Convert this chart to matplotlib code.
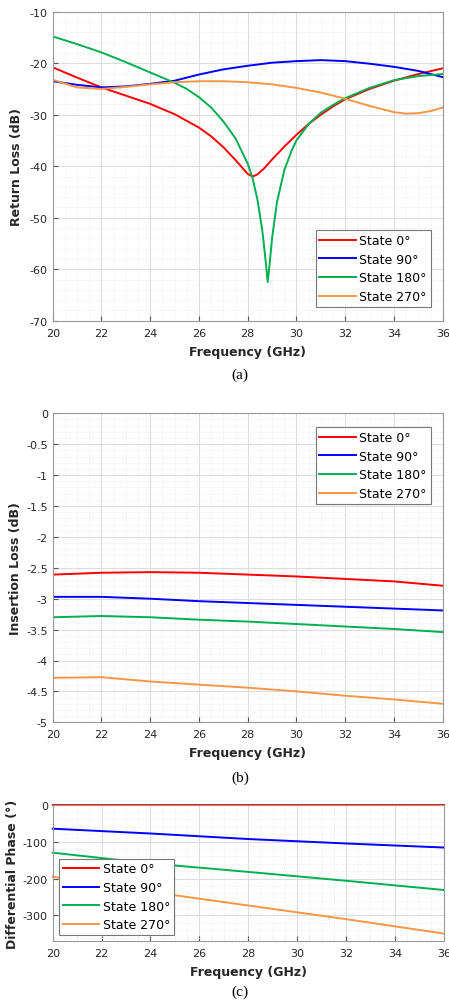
import matplotlib

matplotlib.use("Agg")
import matplotlib.pyplot as plt
from matplotlib.ticker import FuncFormatter, MultipleLocator

# State colours / labels
labels = ["State 0°", "State 90°", "State 180°", "State 270°"]
colors = ["#FF0000", "#0000FF", "#00B050", "#F79646"]

# (a) return loss, dB
rl_f_red = [20, 21, 22, 23, 24, 25, 26, 26.5, 27, 27.5, 28, 28.2, 28.4, 28.7, 29, 29.5,
            30, 30.5, 31, 31.5, 32, 33, 34, 35, 36]
rl_red = [-20.8, -22.8, -24.7, -26.3, -27.9, -29.9, -32.5, -34.2, -36.3, -38.8, -41.5, -42.0,
          -41.6, -40.3, -38.7, -36.2, -33.9, -31.8, -30.0, -28.4, -27.0, -25.0, -23.4, -22.1, -21.0]
rl_f_blue = [20, 21, 22, 23, 24, 25, 26, 27, 28, 29, 30, 31, 32, 33, 34, 35, 36]
rl_blue = [-23.5, -24.2, -24.7, -24.5, -24.0, -23.4, -22.2, -21.2, -20.5, -19.9, -19.6, -19.4,
           -19.6, -20.1, -20.7, -21.5, -22.7]
rl_f_green = [20, 21, 22, 23, 24, 25, 25.5, 26, 26.5, 27, 27.5, 28, 28.2, 28.4, 28.6, 28.75,
              28.82, 28.9, 29.0, 29.2, 29.5, 29.8, 30, 30.5, 31, 31.5, 32, 33, 34, 35, 36]
rl_green = [-14.8, -16.3, -17.9, -19.8, -21.8, -23.8, -25.0, -26.6, -28.6, -31.3, -34.6, -39.5,
            -42.3, -46.5, -52.5, -59.0, -62.5, -59.0, -54.0, -47.0, -40.8, -37.0, -35.0, -31.8,
            -29.6, -28.1, -26.8, -24.8, -23.3, -22.5, -22.1]
rl_f_orange = [20, 21, 22, 23, 24, 25, 26, 27, 28, 29, 30, 31, 32, 33, 34, 34.5, 35, 35.5, 36]
rl_orange = [-23.2, -24.7, -25.0, -24.6, -24.1, -23.7, -23.5, -23.5, -23.7, -24.1, -24.8, -25.7,
             -26.9, -28.3, -29.5, -29.8, -29.7, -29.3, -28.6]

# (b) insertion loss, dB
il_f = [20, 22, 24, 26, 28, 30, 32, 34, 36]
il_red = [-2.61, -2.58, -2.57, -2.58, -2.61, -2.64, -2.68, -2.72, -2.79]
il_blue = [-2.97, -2.97, -3.00, -3.04, -3.07, -3.10, -3.13, -3.16, -3.19]
il_green = [-3.30, -3.28, -3.30, -3.34, -3.37, -3.41, -3.45, -3.49, -3.54]
il_orange = [-4.28, -4.27, -4.34, -4.39, -4.44, -4.50, -4.57, -4.63, -4.70]

# (c) differential phase, deg
ph_f = [20, 24, 28, 32, 36]
ph_red = [0, 0, 0, 0, 0]
ph_blue = [-65, -78, -93, -105, -116]
ph_green = [-130, -159, -182, -206, -231]
ph_orange = [-195, -236, -273, -310, -349]

TXT = "#262626"
# matlab-style tick text: plain hyphen, no trailing zeros
plain = FuncFormatter(lambda v, _: f"{v:g}".replace("\u2212", "-"))


def style(ax, ymin, ymax, ymaj, ymin_step):
    ax.set_xlim(20, 36)
    ax.set_ylim(ymin, ymax)
    ax.xaxis.set_major_locator(MultipleLocator(2))
    ax.xaxis.set_minor_locator(MultipleLocator(0.5))
    ax.yaxis.set_major_locator(MultipleLocator(ymaj))
    ax.yaxis.set_minor_locator(MultipleLocator(ymin_step))
    ax.xaxis.set_major_formatter(plain)
    ax.yaxis.set_major_formatter(plain)
    ax.grid(True, which="major", color="#DDDDDD", linewidth=0.8)
    ax.grid(True, which="minor", color="#E6E6E6", linewidth=0.6, linestyle=":")
    ax.set_axisbelow(True)
    ax.tick_params(which="both", direction="in", colors="#555555", labelcolor=TXT,
                   labelsize=8, top=False, right=False)
    ax.tick_params(axis="x", pad=5)
    ax.tick_params(which="minor", length=0)
    for s in ax.spines.values():
        s.set_color("#999999")
        s.set_linewidth(0.8)
    ax.set_xlabel("Frequency (GHz)", fontsize=9, fontweight="bold", color=TXT, labelpad=5)


def legend(ax, loc, anchor):
    lg = ax.legend(loc=loc, bbox_to_anchor=anchor, fontsize=9, handlelength=2.9,
                   handletextpad=0.3, borderpad=0.3, labelspacing=0.45, fancybox=False,
                   framealpha=1, edgecolor="#777777")
    lg.get_frame().set_linewidth(0.8)


fig = plt.figure(figsize=(4.49, 10.03), dpi=100)
W, H = 449, 1003

# (a)
ax1 = fig.add_axes([52.7 / W, 1 - 321.7 / H, 390 / W, 309 / H])
for x, y, c, lab in zip([rl_f_red, rl_f_blue, rl_f_green, rl_f_orange],
                        [rl_red, rl_blue, rl_green, rl_orange], colors, labels):
    ax1.plot(x, y, color=c, linewidth=1.4, label=lab)
style(ax1, -70, -10, 10, 2)
ax1.set_ylabel("Return Loss (dB)", fontsize=9, fontweight="bold", color=TXT, labelpad=5)
legend(ax1, "lower right", (0.985, 0.025))

# (b)
ax2 = fig.add_axes([52.7 / W, 1 - 723.3 / H, 390 / W, 309 / H])
for y, c, lab in zip([il_red, il_blue, il_green, il_orange], colors, labels):
    ax2.plot(il_f, y, color=c, linewidth=1.4, label=lab)
style(ax2, -5, 0, 0.5, 0.1)
ax2.set_ylabel("Insertion Loss (dB)", fontsize=9, fontweight="bold", color=TXT, labelpad=3)
legend(ax2, "upper right", (0.985, 0.975))

# (c)
ax3 = fig.add_axes([52.7 / W, 1 - 942.3 / H, 391 / W, 136.6 / H])
for y, c, lab in zip([ph_red, ph_blue, ph_green, ph_orange], colors, labels):
    ax3.plot(ph_f, y, color=c, linewidth=1.4, label=lab, clip_on=False)
style(ax3, -370, 0, 100, 20)
ax3.set_ylabel("Differential Phase (°)", fontsize=9, fontweight="bold", color=TXT, labelpad=3)
legend(ax3, "lower left", (0.0, 0.0))

# captions
for txt, y in [("(a)", 375), ("(b)", 778), ("(c)", 992)]:
    fig.text(240 / W, 1 - y / H, txt, ha="center", va="center", fontsize=11,
             family="Liberation Serif")

fig.savefig("out.png", dpi=100)
